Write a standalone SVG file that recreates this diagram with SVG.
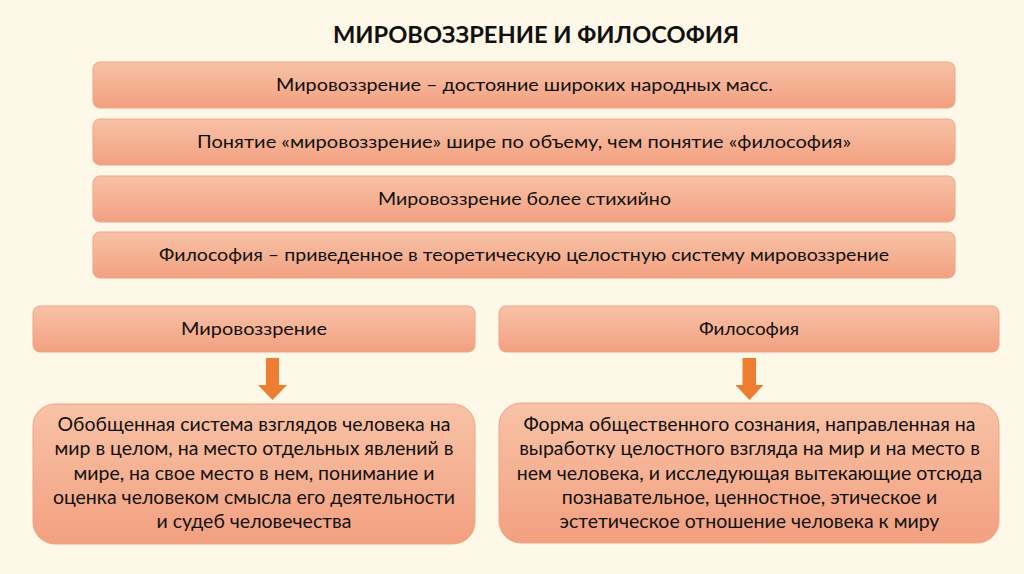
<svg xmlns="http://www.w3.org/2000/svg" width="1024" height="574" viewBox="0 0 1024 574">
  <defs>
    <linearGradient id="boxGrad" x1="0" y1="0" x2="0" y2="1">
      <stop offset="0" stop-color="#F8C2A6"/>
      <stop offset="1" stop-color="#F2A080"/>
    </linearGradient>
    <style>
      .box { fill: url(#boxGrad); stroke: #EFA487; stroke-width: 1; }
      .t { font-family: Lato, "Noto Sans", sans-serif; fill: #111111; text-anchor: middle; }
      .row { font-size: 18px; }
      .big { font-size: 19.5px; }
      .title { font-size: 22px; font-weight: bold; }
      .arrow { fill: #ED7D31; }
    </style>
  </defs>
  <rect x="0" y="0" width="1024" height="574" fill="#FEF8E8"/>

  <text id="title" class="t title" x="536" y="43" textLength="406" lengthAdjust="spacingAndGlyphs">МИРОВОЗЗРЕНИЕ И ФИЛОСОФИЯ</text>

  <g id="row1">
    <rect class="box" x="93" y="62" width="862" height="46" rx="7"/>
    <text class="t row" x="524.5" y="91" textLength="497" lengthAdjust="spacingAndGlyphs">Мировоззрение – достояние широких народных масс.</text>
  </g>
  <g id="row2">
    <rect class="box" x="93" y="119" width="862" height="46" rx="7"/>
    <text class="t row" x="524" y="148" textLength="654" lengthAdjust="spacingAndGlyphs">Понятие «мировоззрение» шире по объему, чем понятие «философия»</text>
  </g>
  <g id="row3">
    <rect class="box" x="93" y="176" width="862" height="46" rx="7"/>
    <text class="t row" x="524.5" y="205" textLength="293" lengthAdjust="spacingAndGlyphs">Мировоззрение более стихийно</text>
  </g>
  <g id="row4">
    <rect class="box" x="93" y="232" width="862" height="46" rx="7"/>
    <text class="t row" x="524" y="261" textLength="730" lengthAdjust="spacingAndGlyphs">Философия – приведенное в теоретическую целостную систему мировоззрение</text>
  </g>

  <g id="worldview">
    <rect class="box" x="33" y="306" width="442" height="46" rx="7"/>
    <text class="t row" x="254" y="335" textLength="146" lengthAdjust="spacingAndGlyphs">Мировоззрение</text>
  </g>
  <g id="philosophy">
    <rect class="box" x="499" y="306" width="500" height="46" rx="7"/>
    <text class="t row" x="749" y="335" textLength="100" lengthAdjust="spacingAndGlyphs">Философия</text>
  </g>

  <g id="connectors">
    <polygon class="arrow" points="266,358 279,358 279,385 287,385 272.5,400 258,385 266,385"/>
    <polygon class="arrow" points="742.5,358 756,358 756,385 763.5,385 749.5,400 735.5,385 742.5,385"/>
  </g>

  <g id="worldview-def">
    <rect class="box" x="33" y="404" width="442" height="140" rx="22"/>
    <text class="t big" x="254" y="431">Обобщенная система взглядов человека на</text>
    <text class="t big" x="254" y="455">мир в целом, на место отдельных явлений в</text>
    <text class="t big" x="254" y="480">мире, на свое место в нем, понимание и</text>
    <text class="t big" x="254" y="504">оценка человеком смысла его деятельности</text>
    <text class="t big" x="254" y="528">и судеб человечества</text>
  </g>
  <g id="philosophy-def">
    <rect class="box" x="499" y="403" width="500" height="140" rx="22"/>
    <text class="t big" x="749.5" y="431">Форма общественного сознания, направленная на</text>
    <text class="t big" x="749.5" y="455">выработку целостного взгляда на мир и на место в</text>
    <text class="t big" x="749.5" y="480">нем человека, и исследующая вытекающие отсюда</text>
    <text class="t big" x="749.5" y="504">познавательное, ценностное, этическое и</text>
    <text class="t big" x="749.5" y="528">эстетическое отношение человека к миру</text>
  </g>
</svg>
